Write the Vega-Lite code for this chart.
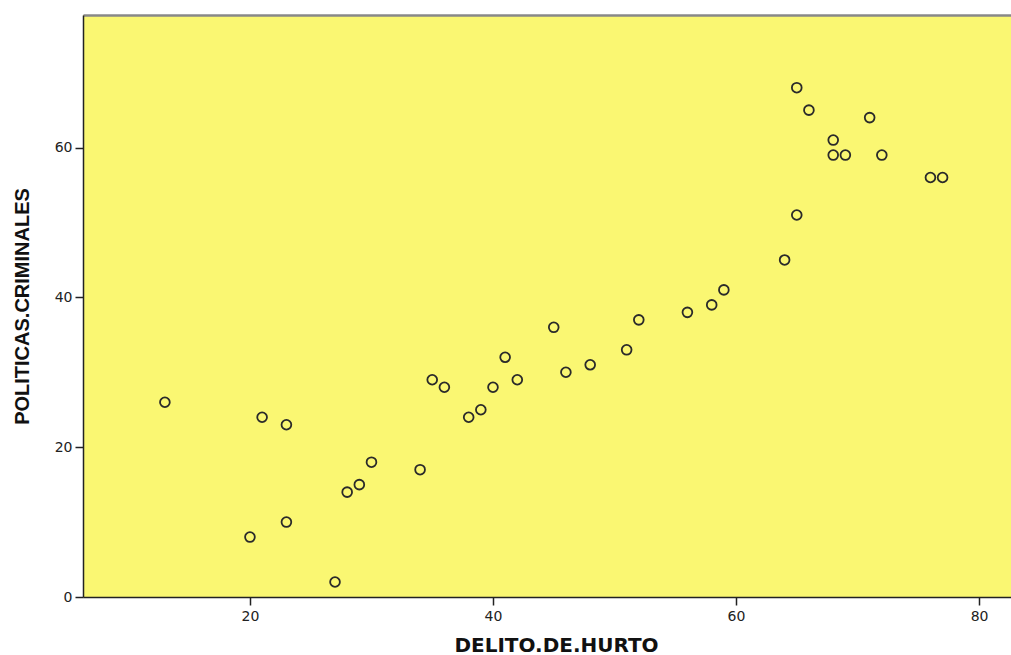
{
  "$schema": "https://vega.github.io/schema/vega-lite/v6.json",
  "autosize": "none",
  "width": 928,
  "height": 582,
  "padding": {"left": 83, "top": 15, "right": 0, "bottom": 58},
  "background": "white",
  "config": {
    "view": {"fill": "#faf772", "stroke": null},
    "axis": {"grid": false, "labelFont": "DejaVu Sans", "labelFontSize": 14, "labelColor": "#222", "tickColor": "#222", "tickSize": 8, "tickWidth": 1.5, "domainColor": "#222", "domainWidth": 1.5, "titleColor": "#111"}
  },
  "data": {"values": [
    {"hurto": 13, "politicas": 26},
    {"hurto": 21, "politicas": 24},
    {"hurto": 23, "politicas": 23},
    {"hurto": 20, "politicas": 8},
    {"hurto": 23, "politicas": 10},
    {"hurto": 27, "politicas": 2},
    {"hurto": 28, "politicas": 14},
    {"hurto": 29, "politicas": 15},
    {"hurto": 30, "politicas": 18},
    {"hurto": 34, "politicas": 17},
    {"hurto": 35, "politicas": 29},
    {"hurto": 36, "politicas": 28},
    {"hurto": 38, "politicas": 24},
    {"hurto": 39, "politicas": 25},
    {"hurto": 40, "politicas": 28},
    {"hurto": 41, "politicas": 32},
    {"hurto": 42, "politicas": 29},
    {"hurto": 45, "politicas": 36},
    {"hurto": 46, "politicas": 30},
    {"hurto": 48, "politicas": 31},
    {"hurto": 51, "politicas": 33},
    {"hurto": 52, "politicas": 37},
    {"hurto": 56, "politicas": 38},
    {"hurto": 58, "politicas": 39},
    {"hurto": 59, "politicas": 41},
    {"hurto": 64, "politicas": 45},
    {"hurto": 65, "politicas": 51},
    {"hurto": 65, "politicas": 68},
    {"hurto": 66, "politicas": 65},
    {"hurto": 68, "politicas": 61},
    {"hurto": 68, "politicas": 59},
    {"hurto": 69, "politicas": 59},
    {"hurto": 71, "politicas": 64},
    {"hurto": 72, "politicas": 59},
    {"hurto": 76, "politicas": 56},
    {"hurto": 77, "politicas": 56}
  ]},
  "layer": [
    {
      "mark": {"type": "point", "shape": "circle", "size": 95, "filled": false, "stroke": "#2a2a2a", "strokeWidth": 1.8, "opacity": 1},
      "encoding": {
        "x": {"field": "hurto", "type": "quantitative", "title": "DELITO.DE.HURTO",
              "scale": {"domain": [6.26, 82.63], "nice": false, "zero": false},
              "axis": {"values": [20, 40, 60, 80], "orient": "bottom", "titleFont": "DejaVu Sans", "titleFontWeight": "bold", "titleFontSize": 20, "titlePadding": 12, "titleX": 473, "labelPadding": 4}},
        "y": {"field": "politicas", "type": "quantitative", "title": "POLITICAS.CRIMINALES",
              "scale": {"domain": [0, 77.7], "nice": false},
              "axis": {"values": [0, 20, 40, 60], "titleFont": "Liberation Sans", "titleFontWeight": "bold", "titleFontSize": 20, "titlePadding": 22, "labelPadding": 3}}
      }
    },
    {
      "mark": {"type": "point", "opacity": 0},
      "encoding": {
        "x": {"field": "hurto", "type": "quantitative",
              "scale": {"domain": [6.26, 82.63], "nice": false, "zero": false},
              "axis": {"orient": "top", "labels": false, "ticks": false, "title": null, "domainColor": "#888", "domainWidth": 2.5}}
      }
    }
  ],
  "resolve": {"axis": {"x": "independent"}}
}
